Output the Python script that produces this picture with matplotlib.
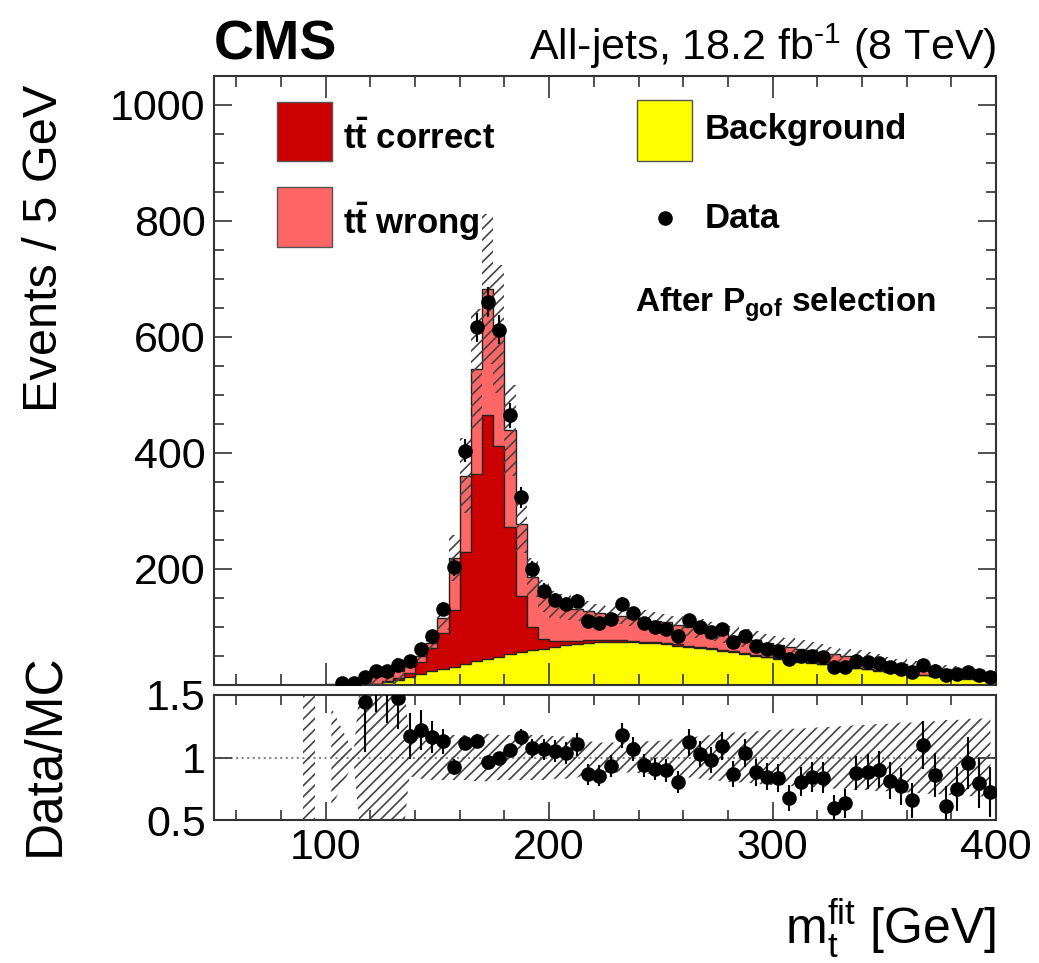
import numpy as np
import matplotlib
matplotlib.use("Agg")
import matplotlib.pyplot as plt
from matplotlib.patches import Rectangle
from matplotlib.lines import Line2D
from matplotlib.ticker import MultipleLocator, FixedLocator

plt.rcParams['font.family'] = ['Liberation Sans', 'DejaVu Sans']
plt.rcParams['mathtext.fontset'] = 'custom'
plt.rcParams['mathtext.rm'] = 'Liberation Sans'
plt.rcParams['mathtext.it'] = 'Liberation Sans:italic'
plt.rcParams['mathtext.bf'] = 'Liberation Sans:bold'
plt.rcParams['hatch.linewidth'] = 1.2

# ---------------- data (5 GeV bins from 50 to 400 GeV) ----------------
bin_edges = np.arange(50, 405, 5)

data_counts = [0, 0, 0, 0, 0, 0, 0, 0, 0, 0, 0,
               2, 3, 13, 24, 24, 34, 41, 61, 84, 130,
               202, 403, 616, 659, 612, 464, 323, 199, 162, 145,
               139, 144, 110, 106, 113, 139, 123, 106, 100, 96,
               83, 111, 99, 90, 96, 73, 83, 67, 61, 57,
               44, 50, 50, 47, 31, 31, 41, 39, 37, 31,
               27, 21, 33, 24, 16, 18, 21, 16, 13]

background = [0, 0, 0, 0, 0, 0, 0, 0, 0, 0, 0, 0, 0, 0,
              0.5, 4, 8, 13, 18, 23, 27, 31, 36, 40,
              44, 48, 52, 56, 59, 62, 65, 68, 70, 72,
              73, 74, 74, 73, 72, 71, 69, 67, 65, 63,
              61, 58, 56, 53, 50, 47, 44, 42, 39, 37,
              35, 33, 30, 28, 26, 24, 22, 20, 18, 16,
              14, 13, 11, 10, 8, 7]

tt_correct = [0, 0, 0, 0, 0, 0, 0, 0, 0, 0, 0, 0, 0, 0,
              1, 2, 3, 7, 20, 40, 62, 98, 192, 323,
              420, 364, 219, 97, 40, 17, 10, 7, 5, 4,
              3, 3, 2, 2, 2, 2, 2, 2, 1.5, 1.5,
              1.5, 1.5, 1.5, 1, 1, 1, 1, 1, 1, 1,
              1, 1, 1, 1, 1, 1, 1, 0.5, 0.5, 0.5,
              0.5, 0.5, 0.5, 0.5, 0.5, 0.5]

tt_wrong = [0, 0, 0, 0, 0, 0, 0, 0, 0, 0, 0.2,
            0.3, 0.6, 9, 12.5, 9, 12, 15, 12, 9, 26,
            89, 132, 181, 218, 201, 167, 124, 86, 73, 63,
            59, 55, 51, 48, 44, 42, 40, 39, 37, 36,
            34, 32.5, 31.5, 29.5, 28.5, 26.5, 26, 25, 24, 23,
            22, 22, 21, 20, 18, 18, 18, 17, 16, 15,
            14.5, 13.5, 13.5, 13.5, 12.5, 12.5, 11.5, 11.5, 10.5]

nan = np.nan
mc_rel_unc = [nan, nan, nan, nan, nan, nan, nan, nan, 1.0, nan,
              0.40, 0.22, 0.04, 1.0, 1.0, 1.0, 1.0, 0.15, 0.17, 0.18,
              0.18, 0.18, 0.18, 0.19, 0.19, 0.18, 0.18, 0.18, 0.18, 0.18,
              0.17, 0.17, 0.16, 0.13, 0.12, 0.12, 0.12, 0.12, 0.13, 0.13,
              0.14, 0.15, 0.16, 0.17, 0.18, 0.19, 0.20, 0.20, 0.21, 0.22,
              0.22, 0.23, 0.23, 0.24, 0.24, 0.25, 0.25, 0.26, 0.26, 0.27,
              0.27, 0.28, 0.28, 0.29, 0.29, 0.30, 0.30, 0.31, 0.31, 0.32]

x_ticks = [100, 200, 300, 400]
y_ticks = [200, 400, 600, 800, 1000]
ratio_ticks = [0.5, 1, 1.5]
ratio_tick_labels = ['0.5', '1', '1.5']

# ---------------- derived ----------------
data_counts = np.array(data_counts, float)
background = np.array(background, float)
tt_correct = np.array(tt_correct, float)
tt_wrong = np.array(tt_wrong, float)
mc_rel_unc = np.array(mc_rel_unc, float)
centers = 0.5 * (bin_edges[:-1] + bin_edges[1:])
widths = np.diff(bin_edges)
lvl1 = background
lvl2 = background + tt_correct
total = lvl2 + tt_wrong

# ---------------- figure ----------------
W, H = 1039, 963
fig = plt.figure(figsize=(W / 100, H / 100), dpi=100)


def fx(x):
    return x / W


def fy(y):
    return 1 - y / H


ax = fig.add_axes([fx(214), fy(684.5), (996 - 214) / W, (684.5 - 75.5) / H])
rax = fig.add_axes([fx(214), fy(820), (996 - 214) / W, (820 - 695) / H])

YELLOW = '#ffff00'
RED = '#cc0000'
PINK = '#ff6666'
EDGE = '#222222'
HATCH = '#444444'
MS = 9.5

# stack
ax.stairs(lvl1, bin_edges, baseline=0, fill=True, color=YELLOW, zorder=1)
ax.stairs(lvl2, bin_edges, baseline=lvl1, fill=True, color=RED, zorder=1)
ax.stairs(total, bin_edges, baseline=lvl2, fill=True, color=PINK, zorder=1)
ax.stairs(lvl1, bin_edges, baseline=None, color=EDGE, lw=1.0, zorder=2)
ax.stairs(lvl2, bin_edges, baseline=None, color=EDGE, lw=1.0, zorder=2)
ax.stairs(total, bin_edges, baseline=None, color=EDGE, lw=1.0, zorder=2)

# MC uncertainty band (main)
ok = np.isfinite(mc_rel_unc) & (total > 0)
unc = total * np.nan_to_num(mc_rel_unc)
ax.bar(centers[ok], 2 * unc[ok], bottom=(total - unc)[ok], width=widths[ok],
       facecolor='none', edgecolor=HATCH, linewidth=0, hatch='///', zorder=3)

# data
has = data_counts > 0
ax.errorbar(centers[has], data_counts[has], yerr=np.sqrt(data_counts[has]),
            fmt='o', color='black', ms=MS, elinewidth=1.5, capsize=0, zorder=5)

ax.set_xlim(bin_edges[0], bin_edges[-1])
ax.set_ylim(0, 1050)

# ratio panel
rax.axhline(1, color='#888888', ls=':', lw=1.5, zorder=1)
band_lo = 1 - mc_rel_unc
band_hi = 1 + mc_rel_unc
rax.fill_between(centers, band_lo, band_hi, facecolor='none', edgecolor=HATCH,
                 linewidth=0, hatch='///', zorder=2)
# isolated bins drawn as boxes
fin = np.isfinite(mc_rel_unc)
for i in range(len(centers)):
    left_f = fin[i - 1] if i > 0 else False
    right_f = fin[i + 1] if i < len(centers) - 1 else False
    if fin[i] and not left_f and not right_f:
        rax.bar(centers[i], 2 * mc_rel_unc[i], bottom=band_lo[i], width=widths[i],
                facecolor='none', edgecolor=HATCH, linewidth=0, hatch='///', zorder=2)

rok = has & (total > 0)
ratio = data_counts[rok] / total[rok]
rerr = np.sqrt(data_counts[rok]) / total[rok]
rax.errorbar(centers[rok], ratio, yerr=rerr, fmt='o', color='black', ms=MS,
             elinewidth=1.5, capsize=0, zorder=5, clip_on=True)
rax.set_xlim(bin_edges[0], bin_edges[-1])
rax.set_ylim(0.5, 1.5)

# axes styling
for a in (ax, rax):
    for s in a.spines.values():
        s.set_color('#333333')
        s.set_linewidth(1.5)
    a.tick_params(which='both', direction='in', top=True, right=True,
                  colors='#333333', labelcolor='black', width=1.2)

ax.xaxis.set_major_locator(MultipleLocator(100))
ax.xaxis.set_minor_locator(MultipleLocator(20))
ax.yaxis.set_major_locator(FixedLocator(y_ticks))
ax.yaxis.set_minor_locator(MultipleLocator(50))
ax.tick_params(axis='x', which='major', length=16, labelbottom=False)
ax.tick_params(axis='x', which='minor', length=8)
ax.tick_params(axis='y', which='major', length=13, labelsize=31, pad=6)
ax.tick_params(axis='y', which='minor', length=7)

rax.set_xticks(x_ticks)
rax.set_xticklabels([str(t) for t in x_ticks])
rax.xaxis.set_minor_locator(MultipleLocator(20))
rax.set_yticks(ratio_ticks)
rax.set_yticklabels(ratio_tick_labels)
rax.tick_params(axis='x', which='major', length=13, labelsize=31, pad=6)
rax.tick_params(axis='x', which='minor', length=7)
rax.tick_params(axis='y', which='major', length=13, labelsize=31, pad=6)

# axis titles
fig.text(fx(45), fy(85), 'Events / 5 GeV', rotation=90, ha='center', va='top',
         fontsize=35)
fig.text(fx(45), fy(755), 'Data/MC', rotation=90, ha='center', va='center',
         fontsize=37)
fig.text(fx(996), fy(945), r'$\mathrm{m_{t}^{fit}}$ [GeV]', ha='right',
         va='baseline', fontsize=36)

# header
fig.text(fx(214), fy(60), 'CMS', fontsize=40, fontweight='bold', ha='left',
         va='baseline')
fig.text(fx(996), fy(60), r'All-jets, 18.2 fb$^{\text{-1}}$ (8 TeV)', fontsize=31,
         ha='right', va='baseline')

# legend (manual, ROOT style)
def legend_box(x0, y0, x1, y1, color):
    fig.patches.append(Rectangle((fx(x0), fy(y1)), (x1 - x0) / W, (y1 - y0) / H,
                                 transform=fig.transFigure, facecolor=color,
                                 edgecolor='#555555', lw=1.0))

legend_box(277, 102, 332, 161, RED)
legend_box(277, 187, 332, 247, PINK)
legend_box(637, 100, 692, 161, YELLOW)
fig.text(fx(343), fy(138), r'$\mathbf{t\bar{t}}$ correct', fontsize=25,
         fontweight='bold', ha='left', va='center')
fig.text(fx(343), fy(222), r'$\mathbf{t\bar{t}}$ wrong', fontsize=25,
         fontweight='bold', ha='left', va='center')
fig.text(fx(705), fy(130), 'Background', fontsize=25, fontweight='bold',
         ha='left', va='center')
fig.lines.append(Line2D([fx(665)], [fy(218)], transform=fig.transFigure,
                        marker='o', ms=MS, color='black', ls='none'))
fig.text(fx(705), fy(218), 'Data', fontsize=25, fontweight='bold',
         ha='left', va='center')
fig.text(fx(635), fy(305), r'After $\mathbf{P_{gof}}$ selection', fontsize=24,
         fontweight='bold', ha='left', va='center')

fig.savefig('out.png', dpi=100)
